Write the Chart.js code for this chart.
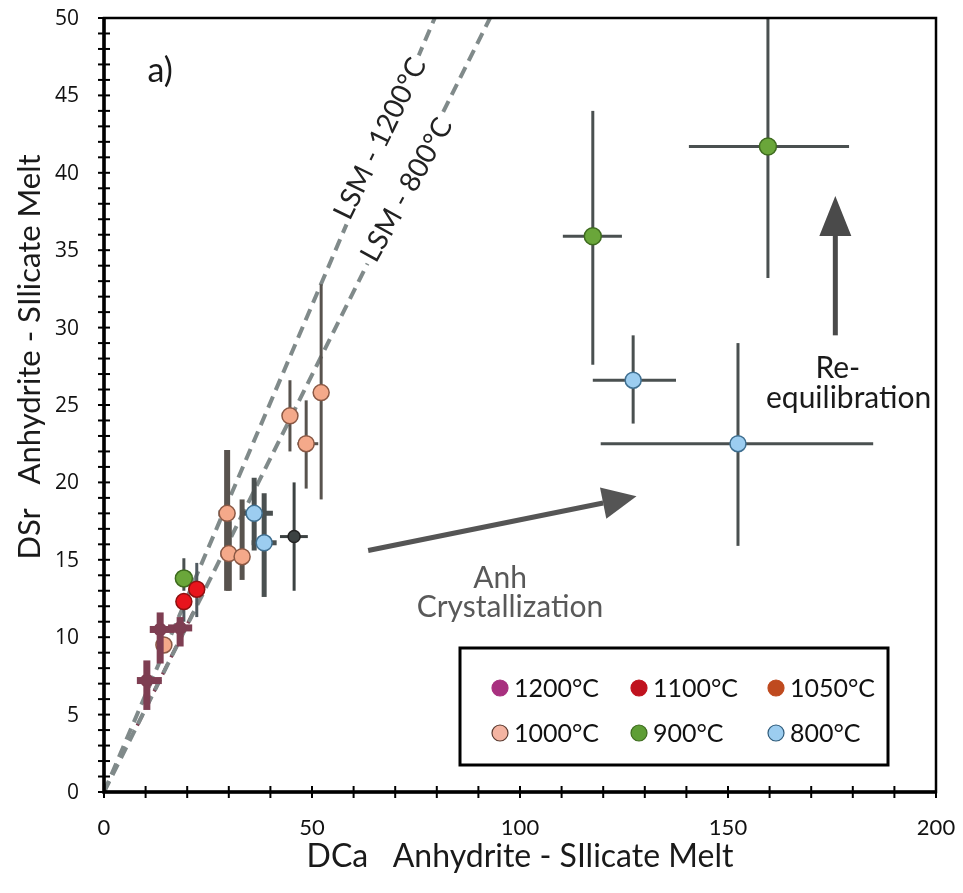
<!DOCTYPE html>
<html>
<head>
<meta charset="utf-8">
<script src="https://cdn.jsdelivr.net/npm/chart.js@4.4.1/dist/chart.umd.min.js"></script>
<style>
  html, body { margin: 0; padding: 0; background: #fff; }
</style>
</head>
<body>
<canvas id="app-canvas" width="963" height="893"></canvas>
<script>
// series values (x = DCa, y = DSr)
var x1200 = [10.3, 13.5, 18.3];
var y1200 = [7.2, 10.5, 10.6];
var ex1200 = [[7.9, 13.9], [11.0, 17.0], [15.4, 21.2]];
var ey1200 = [[5.3, 8.5], [8.3, 11.6], [9.4, 11.3]];

var x1100 = [19.2, 22.3];
var y1100 = [12.3, 13.1];
var ex1100 = [null, [21.5, 23.0]];
var ey1100 = [[11.0, 12.8], [11.3, 14.8]];

var x1000 = [14.4, 29.6, 30.0, 33.2, 44.7, 48.6, 52.2];
var y1000 = [9.5, 18.0, 15.4, 15.2, 24.3, 22.5, 25.8];
var ex1000 = [null, [27.5, 31.5], [28.0, 32.0], [31.5, 35.0], null, [46.5, 51.5], null];
var ey1000 = [null, [13.0, 22.1], [13.0, 17.5], [13.7, 18.9], [22.0, 26.6], [19.6, 25.3], [18.9, 32.8]];

var x900 = [19.2, 117.5, 159.6];
var y900 = [13.8, 35.9, 41.7];
var ex900 = [null, [110.3, 124.5], [140.6, 179.1]];
var ey900 = [[13.0, 15.1], [27.6, 44.0], [33.2, 52.0]];

var x800 = [36.1, 38.5, 127.2, 152.4];
var y800 = [18.0, 16.1, 26.6, 22.5];
var ex800 = [[32.7, 40.6], [35.5, 41.5], [117.5, 137.5], [119.4, 184.9]];
var ey800 = [[15.6, 20.3], [12.6, 19.3], [23.8, 29.5], [15.9, 29.0]];

// one unlabelled dark point
var xOther = [45.7];
var yOther = [16.5];
var exOther = [[42.3, 49.0]];
var eyOther = [[13.0, 20.0]];

// lattice strain model lines
var lsm1200X = [0, 79.5];
var lsm1200Y = [0, 50];
var lsm800X = [0, 92.8];
var lsm800Y = [0, 50];
var lsm1200LowX = [8, 22];
var lsm1200LowY = [4.3, 11.9];

// legend
var legendLabels = ["1200°C", "1100°C", "1050°C", "1000°C", "900°C", "800°C"];
var legendColors = ["#A8307F", "#C0121E", "#BF4A1F", "#F4B4A2", "#5E9E35", "#9CCDF0"];
var legendBorders = ["#A8307F", "#C0121E", "#BF4A1F", "#5A3A30", "#3E6B1F", "#2F5B7A"];

// axis ticks
var xTicks = [0, 50, 100, 150, 200];
var yTicks = [0, 5, 10, 15, 20, 25, 30, 35, 40, 45, 50];

function pts(xs, ys) {
  var out = [];
  for (var i = 0; i < xs.length; i++) out.push({ x: xs[i], y: ys[i] });
  return out;
}

function pointSet(label, xs, ys, ex, ey, fill, border, radius, errColor, errWidth) {
  return {
    type: "scatter",
    label: label,
    data: pts(xs, ys),
    backgroundColor: fill,
    borderColor: border,
    borderWidth: 1.5,
    pointRadius: radius,
    pointHoverRadius: radius,
    errX: ex,
    errY: ey,
    errColor: errColor,
    errWidth: errWidth,
    order: 1
  };
}

function lineSet(label, xs, ys, color, width) {
  return {
    type: "line",
    label: label,
    data: pts(xs, ys),
    borderColor: color,
    borderWidth: width,
    borderDash: [12, 7],
    pointRadius: 0,
    fill: false,
    order: 5
  };
}

// error bars drawn just before each point set
var errorBars = {
  id: "errorBars",
  beforeDatasetDraw: function(chart, args) {
    var ds = chart.data.datasets[args.index];
    if (!ds.errX && !ds.errY) return;
    var xs = chart.scales.x, ys = chart.scales.y, area = chart.chartArea;
    var c = chart.ctx;
    c.save();
    c.beginPath();
    c.rect(area.left, area.top, area.right - area.left, area.bottom - area.top);
    c.clip();
    c.strokeStyle = ds.errColor;
    c.lineCap = "butt";
    for (var i = 0; i < ds.data.length; i++) {
      var p = ds.data[i];
      var px = xs.getPixelForValue(p.x), py = ys.getPixelForValue(p.y);
      c.lineWidth = Array.isArray(ds.errWidth) ? ds.errWidth[i] : ds.errWidth;
      if (ds.errX && ds.errX[i]) {
        c.beginPath();
        c.moveTo(xs.getPixelForValue(ds.errX[i][0]), py);
        c.lineTo(xs.getPixelForValue(ds.errX[i][1]), py);
        c.stroke();
      }
      if (ds.errY && ds.errY[i]) {
        c.beginPath();
        c.moveTo(px, ys.getPixelForValue(ds.errY[i][0]));
        c.lineTo(px, ys.getPixelForValue(ds.errY[i][1]));
        c.stroke();
      }
    }
    c.restore();
  }
};

function arrow(c, x1, y1, x2, y2, color, headLen, headW) {
  var ang = Math.atan2(y2 - y1, x2 - x1);
  var bx = x2 - headLen * Math.cos(ang), by = y2 - headLen * Math.sin(ang);
  c.strokeStyle = color;
  c.fillStyle = color;
  c.lineWidth = 5;
  c.beginPath();
  c.moveTo(x1, y1);
  c.lineTo(bx, by);
  c.stroke();
  c.beginPath();
  c.moveTo(x2, y2);
  c.lineTo(bx + headW * Math.sin(ang), by - headW * Math.cos(ang));
  c.lineTo(bx - headW * Math.sin(ang), by + headW * Math.cos(ang));
  c.closePath();
  c.fill();
}

// rotated label sitting on its line, with a white gap behind it
function lineLabel(c, text, x, y, deg) {
  c.save();
  c.translate(x, y);
  c.rotate(-deg * Math.PI / 180);
  var w = c.measureText(text).width;
  c.fillStyle = "#fff";
  c.fillRect(-w / 2 - 4, -13, w + 8, 26);
  c.fillStyle = "#222";
  c.fillText(text, 0, 0);
  c.restore();
}

// frame, crossing ticks, tick labels, titles, labels, arrows and legend box
var decorations = {
  id: "decorations",
  afterDraw: function(chart) {
    var c = chart.ctx, a = chart.chartArea;
    var xs = chart.scales.x, ys = chart.scales.y;
    var X = function(v) { return xs.getPixelForValue(v); };
    var Y = function(v) { return ys.getPixelForValue(v); };
    c.save();
    c.textAlign = "center";
    c.textBaseline = "middle";

    // LSM labels first, so the frame stays on top
    c.font = "28px Lato";
    lineLabel(c, "LSM - 1200°C", X(66.4), Y(42.2), 64);
    lineLabel(c, "LSM - 800°C", X(72.8), Y(38.9), 61);

    // frame
    c.strokeStyle = "#000";
    c.lineWidth = 2.5;
    c.strokeRect(a.left, a.top, a.right - a.left, a.bottom - a.top);
    c.lineWidth = 3.5;
    c.beginPath();
    c.moveTo(a.left, a.top); c.lineTo(a.left, a.bottom); c.lineTo(a.right, a.bottom);
    c.stroke();

    // ticks that cross the axes
    c.lineWidth = 2;
    for (var v = 0; v <= 200; v += 10) {
      c.beginPath();
      c.moveTo(X(v), a.bottom - 6); c.lineTo(X(v), a.bottom + 6);
      c.stroke();
    }
    for (var w = 0; w <= 50; w += 1) {
      c.beginPath();
      c.moveTo(a.left - 6, Y(w)); c.lineTo(a.left + 6, Y(w));
      c.stroke();
    }

    // tick labels, placed from the scales' own ticks
    c.fillStyle = "#111";
    c.font = "22px Lato";
    xs.ticks.forEach(function(t) { c.fillText(String(t.value), X(t.value), a.bottom + 36); });
    c.font = "21px 'Open Sans'";
    c.textAlign = "right";
    ys.ticks.forEach(function(t) { c.fillText(String(t.value), a.left - 25, Y(t.value) + 1); });
    c.textAlign = "center";

    // axis titles
    c.fillStyle = "#1a1a1a";
    c.font = "32px Lato";
    c.fillText("DCa   Anhydrite - SIlicate Melt", (a.left + a.right) / 2, 857);
    c.save();
    c.translate(30, 357);
    c.rotate(-Math.PI / 2);
    c.font = "31px Lato";
    c.fillText("DSr   Anhydrite - SIlicate Melt", 0, 0);
    c.restore();

    // panel letter
    c.font = "34px Lato";
    c.fillText("a)", X(13.5), Y(46.6));

    // arrows
    arrow(c, X(63.5), Y(15.6), X(128), Y(19.1), "#555555", 34, 16);
    arrow(c, X(175.8), Y(29.5), X(175.8), Y(38.5), "#4a4a4a", 40, 16);

    c.font = "30px Lato";
    c.fillStyle = "#595959";
    c.fillText("Anh", X(95.2), Y(13.8));
    c.fillText("Crystallization", X(97.6), Y(11.9));
    c.fillStyle = "#1a1a1a";
    c.fillText("Re-", X(176.4), Y(27.4));
    c.fillText("equilibration", X(179.0), Y(25.4));

    // legend box
    c.fillStyle = "#fff";
    c.fillRect(460, 648, 428, 117);
    c.strokeStyle = "#000";
    c.lineWidth = 3;
    c.strokeRect(460, 648, 428, 117);
    var colX = [500, 639, 776];
    var rowY = [688, 733];
    c.font = "25px Lato";
    c.textAlign = "left";
    for (var i = 0; i < legendLabels.length; i++) {
      var cx = colX[i % 3], cy = rowY[Math.floor(i / 3)];
      c.beginPath();
      c.arc(cx, cy, 8, 0, Math.PI * 2);
      c.fillStyle = legendColors[i];
      c.fill();
      c.lineWidth = 1.2;
      c.strokeStyle = legendBorders[i];
      c.stroke();
      c.fillStyle = "#111";
      c.fillText(legendLabels[i], cx + 14, cy + 1);
    }
    c.restore();
  }
};

var ctx = document.getElementById("app-canvas").getContext("2d");
var chart = new Chart(ctx, {
  type: "scatter",
  data: {
    datasets: [
      pointSet("1200°C", x1200, y1200, ex1200, ey1200, "#7E3E52", "#7E3E52", 6, "#7E3E52", 7),
      pointSet("1100°C", x1100, y1100, ex1100, ey1100, "#E8141C", "#8E1010", 8, "#505A60", 3),
      pointSet("1000°C", x1000, y1000, ex1000, ey1000, "#F4A98A", "#8A5844", 8, "#58534E", [7, 6, 6, 5, 3, 3, 3]),
      pointSet("900°C", x900, y900, ex900, ey900, "#6AA63A", "#3E6B1F", 8.5, "#4A5050", 3),
      pointSet("800°C", x800, y800, ex800, ey800, "#9CCDF0", "#3F6F90", 8, "#4A5050", [5, 5, 3, 3]),
      pointSet("other", xOther, yOther, exOther, eyOther, "#3C4242", "#222", 6, "#3C4242", 3),
      lineSet("LSM - 1200°C", lsm1200X, lsm1200Y, "#808A8A", 4),
      lineSet("LSM - 800°C", lsm800X, lsm800Y, "#808A8A", 4),
      lineSet("LSM low", lsm1200LowX, lsm1200LowY, "#7E3E52", 3.5)
    ]
  },
  options: {
    responsive: false,
    animation: false,
    layout: { padding: { top: 18, right: 27, bottom: 0, left: 0 } },
    plugins: {
      legend: { display: false },
      tooltip: { enabled: false }
    },
    scales: {
      x: {
        type: "linear",
        min: 0,
        max: 200,
        grid: { display: false },
        border: { display: false },
        afterBuildTicks: function(s) { s.ticks = xTicks.map(function(v) { return { value: v }; }); },
        afterFit: function(s) { s.height = 101; s.paddingLeft = 0; s.paddingRight = 0; },
        ticks: { display: false }
      },
      y: {
        type: "linear",
        min: 0,
        max: 50,
        grid: { display: false },
        border: { display: false },
        afterBuildTicks: function(s) { s.ticks = yTicks.map(function(v) { return { value: v }; }); },
        afterFit: function(s) { s.width = 104; s.paddingTop = 0; s.paddingBottom = 0; },
        ticks: { display: false }
      }
    }
  },
  plugins: [errorBars, decorations]
});
</script>
</body>
</html>
